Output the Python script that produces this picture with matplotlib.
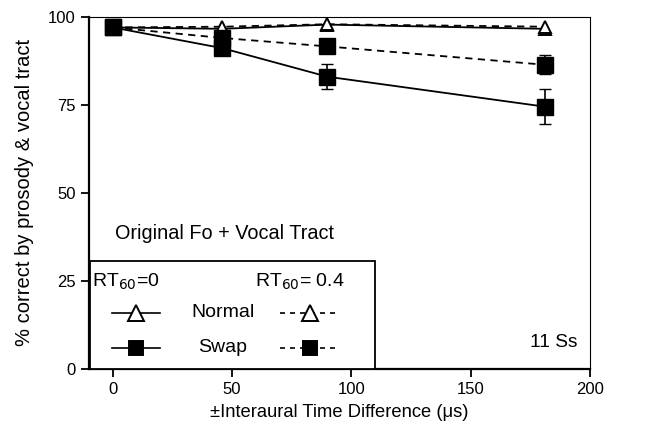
import matplotlib
matplotlib.use("Agg")
import matplotlib.pyplot as plt
from matplotlib.lines import Line2D
from matplotlib.patches import Rectangle

plt.rcParams['font.family'] = ['Liberation Sans', 'DejaVu Sans']

itd = [0, 46, 90, 181]
normal_rt0 = [97, 96.6, 97.8, 96.6]
swap_rt0 = [97, 91.1, 83.0, 74.5]
swap_rt0_err = [0, 1.5, 3.5, 5.0]
normal_rt04 = [97, 97.2, 97.9, 97.2]
swap_rt04 = [97, 94.0, 91.6, 86.4]
swap_rt04_err = [0, 1.5, 1.5, 2.7]

xticks = [0, 50, 100, 150, 200]
yticks = [0, 25, 50, 75, 100]

fig = plt.figure(figsize=(6.53, 4.32), dpi=100)
ax = fig.add_axes([0.136, 0.146, 0.7675, 0.815])

ms_sq = 11.5
ms_tri = 9
ax.plot(itd, normal_rt0, color='black', lw=1.3, marker='^', ms=ms_tri, mfc='white', mew=1.4, zorder=3)
ax.plot(itd, normal_rt04, color='black', lw=1.3, ls=(0, (4, 3)), marker='^', ms=ms_tri, mfc='white', mew=1.4, zorder=3)
ax.errorbar(itd, swap_rt0, yerr=swap_rt0_err, color='black', lw=1.3, marker='s', ms=ms_sq,
            mfc='black', capsize=4, elinewidth=1.2, zorder=4)
ax.errorbar(itd, swap_rt04, yerr=swap_rt04_err, color='black', lw=1.3, ls=(0, (4, 3)), marker='s', ms=ms_sq,
            mfc='black', capsize=4, elinewidth=1.2, zorder=4)

ax.set_xlim(-10, 200)
ax.set_ylim(0, 100)
ax.set_xticks(xticks)
ax.set_yticks(yticks)
ax.tick_params(direction='out', length=6, width=1.3, labelsize=12)
for s in ['left', 'bottom']:
    ax.spines[s].set_linewidth(1.6)
for s in ['top', 'right']:
    ax.spines[s].set_linewidth(0.8)

ax.set_xlabel('±Interaural Time Difference (μs)', fontsize=13.2, labelpad=5)
ax.set_ylabel('% correct by prosody & vocal tract', fontsize=14.5, labelpad=10)

ax.text(0.052, 0.384, 'Original Fo + Vocal Tract', transform=ax.transAxes, fontsize=14.3, va='center')
ax.text(0.975, 0.075, '11 Ss', transform=ax.transAxes, fontsize=13.8, va='center', ha='right')

# custom legend box
ax.add_patch(Rectangle((0.003, 0.0), 0.568, 0.307, transform=ax.transAxes, fill=True,
                       facecolor='white', edgecolor='black', lw=1.3, zorder=5))
ax.text(0.006, 0.247, r'RT$_{60}$=0', transform=ax.transAxes, fontsize=14, va='center', zorder=6)
ax.text(0.331, 0.247, r'RT$_{60}$= 0.4', transform=ax.transAxes, fontsize=14, va='center', zorder=6)
ax.text(0.267, 0.159, 'Normal', transform=ax.transAxes, fontsize=14, va='center', ha='center', zorder=6)
ax.text(0.267, 0.06, 'Swap', transform=ax.transAxes, fontsize=14, va='center', ha='center', zorder=6)
for yy, mk, fc, m in [(0.159, '^', 'white', 11), (0.06, 's', 'black', 9.5)]:
    ax.add_line(Line2D([0.046, 0.142], [yy, yy], transform=ax.transAxes, color='black', lw=1.2, zorder=6))
    ax.add_line(Line2D([0.094], [yy], transform=ax.transAxes, color='black', marker=mk, ms=m,
                       mfc=fc, mew=1.4, ls='none', zorder=7))
    ax.add_line(Line2D([0.381, 0.495], [yy, yy], transform=ax.transAxes, color='black', lw=1.2,
                       ls=(0, (3, 3)), zorder=6))
    ax.add_line(Line2D([0.441], [yy], transform=ax.transAxes, color='black', marker=mk, ms=m,
                       mfc=fc, mew=1.4, ls='none', zorder=7))

fig.savefig('out.png', dpi=100)
